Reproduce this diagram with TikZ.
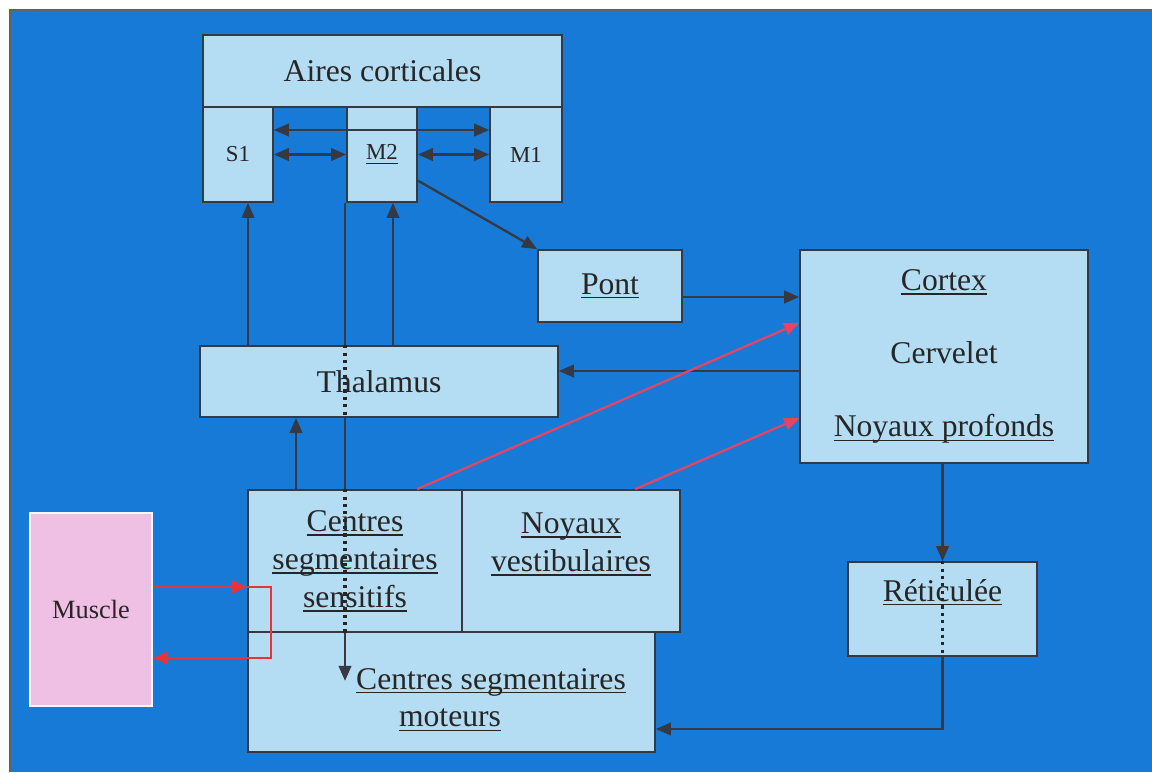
\documentclass[tikz,border=0pt]{standalone}
\usepackage{fontspec}
\setmainfont{Liberation Serif}
\usetikzlibrary{arrows.meta,calc}

\newcommand{\sousligne}[1]{\leavevmode\setbox0\hbox{#1}\rlap{\copy0}\rule[-2.4pt]{\wd0}{0.7pt}}

\definecolor{bleufond}{RGB}{22,122,214}
\definecolor{bleuclair}{RGB}{180,220,242}
\definecolor{rose}{RGB}{240,192,228}
\definecolor{trait}{RGB}{55,57,66}
\definecolor{rouge}{RGB}{232,52,56}
\definecolor{rougepale}{RGB}{226,70,100}

\tikzset{
  boite/.style={draw=trait, line width=1pt, fill=bleuclair, inner sep=0pt,
    align=center, text=black!85, font=\fontsize{18}{21.6}\selectfont},
  petit/.style={font=\fontsize{13}{15}\selectfont},
  texte/.style={inner sep=0pt, text=black!85, font=\fontsize{18}{21.6}\selectfont},
  fl/.style={draw=trait, line width=1.3pt, -{Triangle[length=0.3cm,width=0.25cm]}},
  dfl/.style={draw=trait, line width=1.3pt,
    {Triangle[length=0.3cm,width=0.25cm]}-{Triangle[length=0.3cm,width=0.25cm]}},
  trait plein/.style={draw=trait, line width=1.3pt},
  pointille/.style={draw=black!85, line width=1.8pt, dash pattern=on 1.8pt off 2.4pt},
  flrouge/.style={draw=rouge, line width=1.3pt, -{Triangle[length=0.3cm,width=0.25cm]}},
  flrose/.style={draw=rougepale, line width=1.3pt, -{Triangle[length=0.3cm,width=0.25cm]}}
}

\begin{document}
\begin{tikzpicture}[x=0.02cm, y=-0.02cm]
    \useasboundingbox (0,0) rectangle (1152,772);
    % fond bleu
    \fill[bleufond] (10,10) rectangle (1152,772);
    \draw[trait!80, line width=0.6pt] (10,772) -- (10,10) -- (1152,10);

    % aires corticales
    \node[boite, minimum width=7.18cm, minimum height=1.44cm] (aires) at (382.5,71) {Aires corticales};
    \node[boite, petit, minimum width=1.4cm, minimum height=1.9cm] (s1) at (238,154.5) {S1};
    \node[boite, petit, minimum width=1.4cm, minimum height=1.9cm] (m2) at (382,154.5) {\sousligne{M2}};
    \node[boite, petit, minimum width=1.44cm, minimum height=1.9cm] (m1) at (526,154.5) {M1};

    % pont, cervelet, thalamus
    \node[boite, minimum width=2.88cm, minimum height=1.44cm] (pont) at (610,286) {\sousligne{Pont}};
    \node[boite, minimum width=5.76cm, minimum height=4.26cm] (cerv) at (944,356.5)
        {\sousligne{Cortex}\\[20pt]Cervelet\\[20pt]\sousligne{Noyaux profonds}};
    \node[boite, minimum width=7.16cm, minimum height=1.42cm] (thal) at (379,381.5) {Thalamus};

    % centres segmentaires
    \node[boite, minimum width=4.28cm, minimum height=2.84cm] (sens) at (355,561)
        {\sousligne{Centres}\\\sousligne{segmentaires}\\\sousligne{sensitifs}};
    \node[boite, minimum width=4.36cm, minimum height=2.84cm] (vest) at (571,561)
        {\sousligne{Noyaux}\\\sousligne{vestibulaires}\\\mbox{}};
    \node[boite, minimum width=8.14cm, minimum height=2.4cm] (mot) at (451.5,692) {};
    \node[texte] (motA) at (491,682) {\sousligne{Centres segmentaires}};
    \node[texte] (motB) at (450,720) {\sousligne{moteurs}};

    % muscle, reticulee
    \node[boite, draw=white!85!rose, line width=1pt, fill=rose, font=\fontsize{15}{18}\selectfont,
        minimum width=2.44cm, minimum height=3.86cm] (muscle) at (91,609.5) {Muscle};
    \node[boite, minimum width=3.78cm, minimum height=1.88cm] (ret) at (942.5,609)
        {\sousligne{Réticulée}\\\mbox{}};

    % liaisons entre aires
    \coordinate (a1) at ($(s1.east)+(0,-24.5)$);
    \draw[dfl] (a1) -- (a1 -| m1.west);
    \draw[dfl] (s1.east) -- (m2.west);
    \draw[dfl] (m2.east) -- (m1.west);
    \draw[fl] (m2.-36) -- (pont.north west);

    % thalamus vers aires
    \coordinate (t1) at ($(s1.south)+(10,0)$);
    \coordinate (t2) at ($(m2.south)+(11,0)$);
    \coordinate (t3) at ($(sens.north)+(-59,0)$);
    \draw[fl] (t1 |- thal.north) -- (t1);
    \draw[fl] (t2 |- thal.north) -- (t2);
    \draw[fl] (t3) -- (t3 |- thal.south);

    % voie descendante depuis M2
    \coordinate (d1) at ($(m2.south)+(-37,0)$);
    \draw[trait plein] (d1) -- (d1 |- thal.north);
    \draw[pointille] (d1 |- thal.north) -- (d1 |- thal.south);
    \draw[trait plein] (d1 |- thal.south) -- (d1 |- sens.north);
    \draw[pointille] (d1 |- sens.north) -- (d1 |- sens.south);
    \draw[fl] (d1 |- sens.south) -- ++(0,48);

    % cervelet
    \coordinate (p1) at ($(pont.east)+(0,11)$);
    \coordinate (c1) at ($(cerv.west)+(0,14.5)$);
    \draw[fl] (p1) -- (p1 -| cerv.west);
    \draw[fl] (c1) -- (c1 -| thal.east);
    \draw[flrose] ($(sens.north)+(62,0)$) -- ($(cerv.west)+(0,-33.5)$);
    \draw[flrose] ($(vest.north)+(64,0)$) -- ($(cerv.west)+(0,61.5)$);

    % reticulee
    \coordinate (q1) at ($(mot.east)+(0,37)$);
    \draw[fl] (ret.north |- cerv.south) -- (ret.north);
    \draw[pointille] (ret.north) -- (ret.south);
    \draw[fl] (ret.south) |- (q1);

    % boucle muscle
    \coordinate (u1) at ($(muscle.east)+(0,-22.5)$);
    \coordinate (u2) at ($(muscle.east)+(0,48.5)$);
    \draw[flrouge] (u1) -- (u1 -| sens.west);
    \draw[flrouge] (u1 -| sens.west) -- ++(24,0) |- (u2);
\end{tikzpicture}
\end{document}
